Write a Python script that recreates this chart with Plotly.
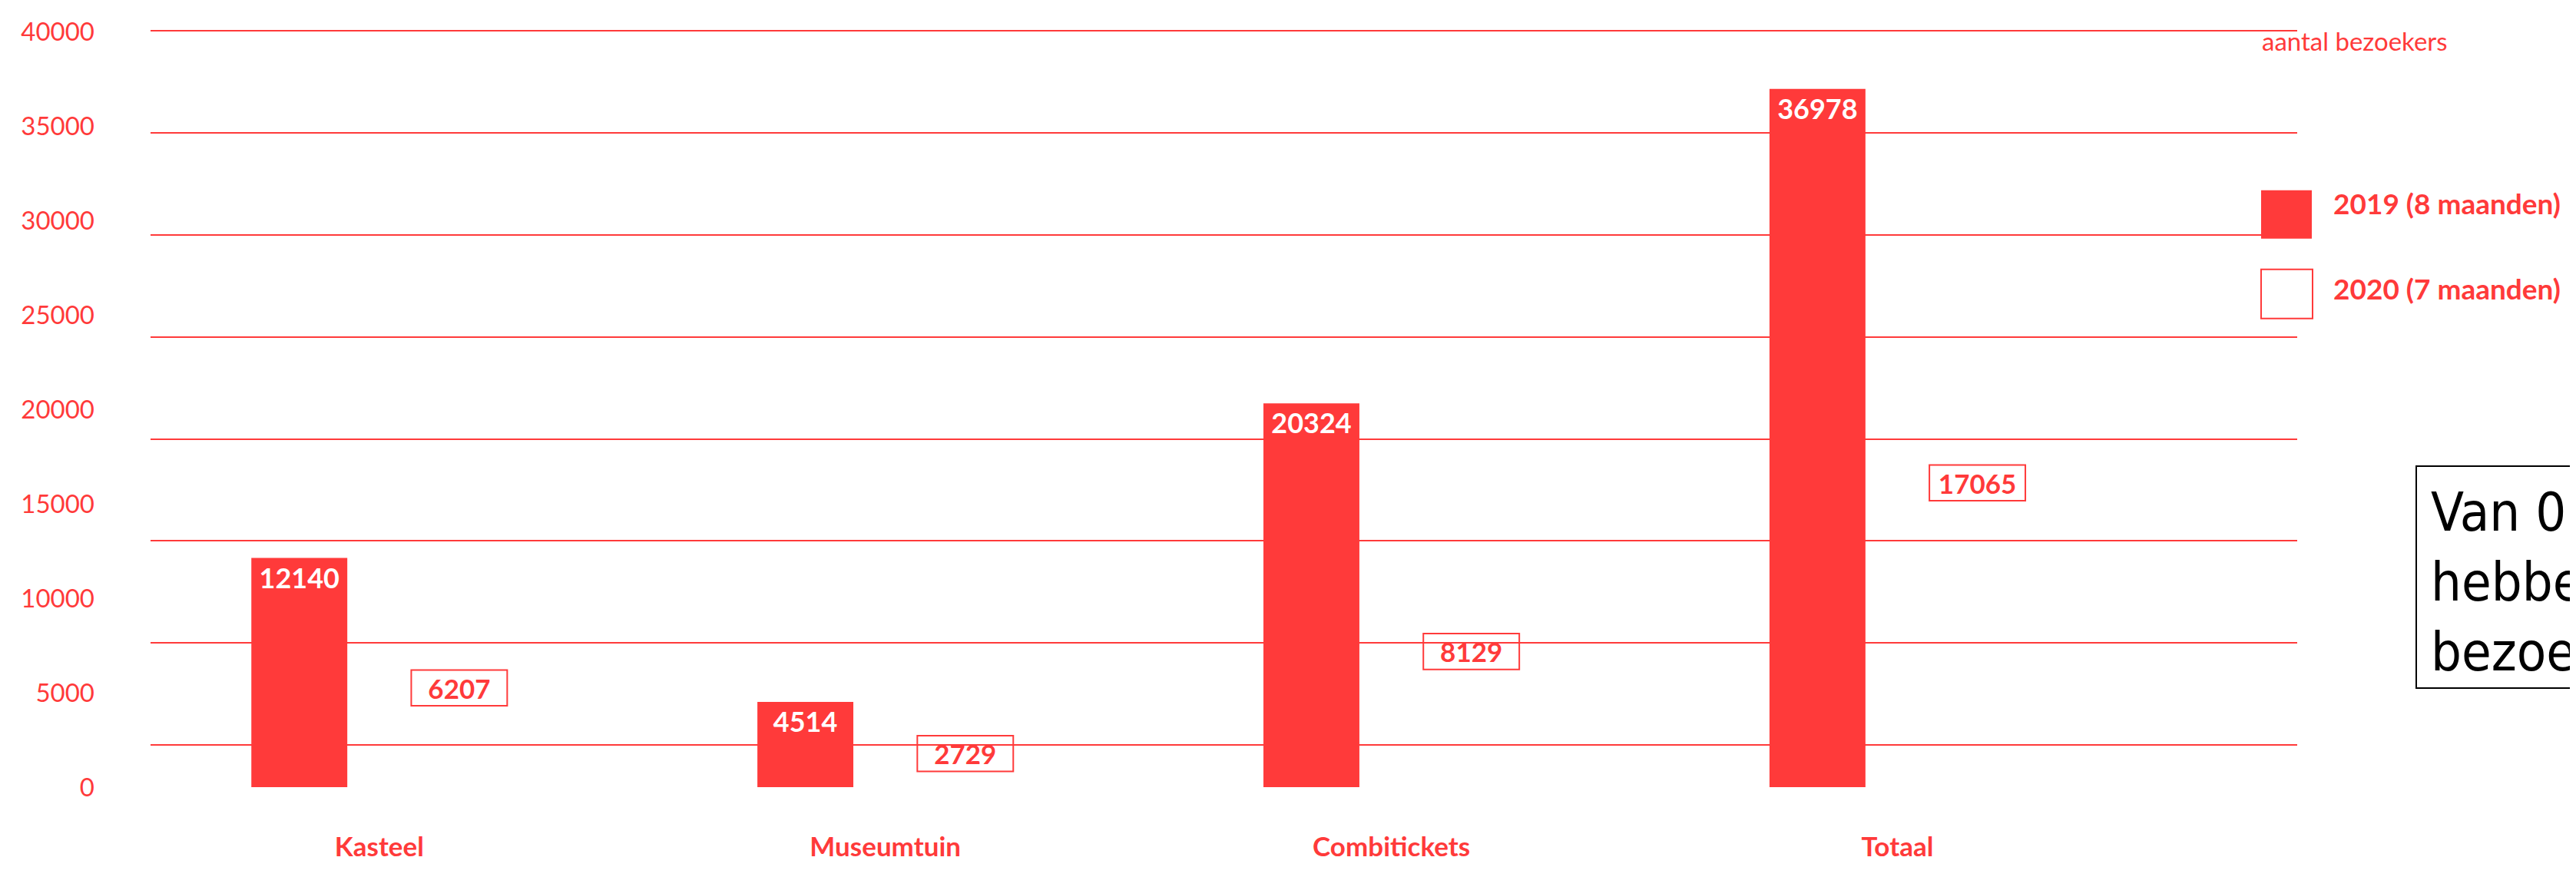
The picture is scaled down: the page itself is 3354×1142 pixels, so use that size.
import plotly.graph_objects as go

# ---- data -------------------------------------------------------------
categories = ["Kasteel", "Museumtuin", "Combitickets", "Totaal"]
visitors_2019 = [12140, 4514, 20324, 36978]
visitors_2020 = [6207, 2729, 8129, 17065]
series_names = ["2019 (8 maanden)", "2020 (7 maanden)"]
y_tick_values = [0, 5000, 10000, 15000, 20000, 25000, 30000, 35000, 40000]
axis_title = "aantal bezoekers"
note_lines = ["Van 01 maart tot 30 september", "hebben er in totaal 17065", "bezoekers het kasteel bezocht"]

# ---- style ------------------------------------------------------------
RED = "#ff3a3a"
W, H = 3354, 1142          # window size
OFF = 8                    # default page margin of the html body
L, R, T, B = 196, 363, 25, 83   # plot area edges in window pixels
Y_MAX = 40100
BOX_H = 1900  # height of the outlined 2020 label boxes (axis units)
FONT = "Lato"


def px_x(px):
    return (px - L) / (W - L - R)


def px_y(py):
    return (H - B - py) / (H - T - B)


fig = go.Figure()

fig.add_bar(
    x=categories,
    y=visitors_2019,
    name=series_names[0],
    marker=dict(color=RED, line=dict(width=0)),
    text=["<b>%d</b>" % v for v in visitors_2019],
    textposition="inside",
    insidetextanchor="end",
    constraintext="none",
    textfont=dict(family=FONT, size=36, color="white"),
    hoverinfo="skip",
)

fig.add_bar(
    x=categories,
    y=[BOX_H] * len(visitors_2020),
    base=[v - BOX_H for v in visitors_2020],
    name=series_names[1],
    marker=dict(color="rgba(255,255,255,0)", line=dict(color=RED, width=2)),
    text=["<b>%d</b>" % v for v in visitors_2020],
    textposition="inside",
    insidetextanchor="middle",
    constraintext="none",
    textfont=dict(family=FONT, size=35, color=RED),
    hoverinfo="skip",
)

# carrier trace for the grid axis
fig.add_scatter(x=categories, y=[None] * len(categories), yaxis="y2",
                mode="markers", showlegend=False, hoverinfo="skip")

fig.update_layout(
    width=W - 2 * OFF,
    height=H - 2 * OFF,
    margin=dict(l=L - OFF, r=R - OFF, t=T - OFF, b=B - OFF, pad=0),
    paper_bgcolor="white",
    plot_bgcolor="white",
    showlegend=False,
    barmode="group",
    bargap=0.368,
    bargroupgap=0.4,
    xaxis=dict(
        type="category",
        range=[-0.452, 3.79],
        showgrid=False,
        showline=False,
        zeroline=False,
        ticks="",
        ticklabelstandoff=54,
        tickfont=dict(family=FONT, size=35, color=RED, weight=700),
    ),
    yaxis=dict(
        range=[0, Y_MAX],
        tickvals=y_tick_values,
        tickformat="d",
        showgrid=False,
        showline=False,
        zeroline=False,
        ticks="",
        ticklabelstandoff=72,
        ticklabeloverflow="allow",
        tickfont=dict(family=FONT, size=33, color=RED),
    ),
    yaxis2=dict(
        overlaying="y",
        side="left",
        range=[0, Y_MAX],
        tick0=2240,
        dtick=5400,
        showgrid=True,
        gridcolor=RED,
        gridwidth=2,
        showticklabels=False,
        showline=False,
        zeroline=False,
        ticks="",
    ),
)

# custom legend
fig.add_shape(type="rect", xref="paper", yref="paper",
              x0=px_x(2944), x1=px_x(3010), y0=px_y(310), y1=px_y(244),
              fillcolor=RED, line=dict(width=0))
fig.add_shape(type="rect", xref="paper", yref="paper",
              x0=px_x(2944), x1=px_x(3011), y0=px_y(419), y1=px_y(352),
              fillcolor="white", line=dict(color=RED, width=2))
for name, yc in zip(series_names, [262, 378]):
    fig.add_annotation(text="<b>%s</b>" % name, xref="paper", yref="paper",
                       x=px_x(3036), y=px_y(yc), xanchor="left", yanchor="middle",
                       showarrow=False,
                       font=dict(family=FONT, size=37, color=RED))

fig.add_annotation(text=axis_title, xref="paper", yref="paper",
                   x=px_x(2943), y=px_y(40), xanchor="left", yanchor="middle",
                   showarrow=False, font=dict(family=FONT, size=33, color=RED))

fig.add_annotation(text="<br>".join(note_lines), xref="paper", yref="paper",
                   x=px_x(3145), y=px_y(620), xanchor="left", yanchor="top",
                   align="left", valign="top", height=251, showarrow=False,
                   bordercolor="black", borderwidth=2, borderpad=18, bgcolor="white",
                   font=dict(family="DejaVu Sans Condensed, DejaVu Sans", size=70, color="black"))

fig.write_html("out.html")
